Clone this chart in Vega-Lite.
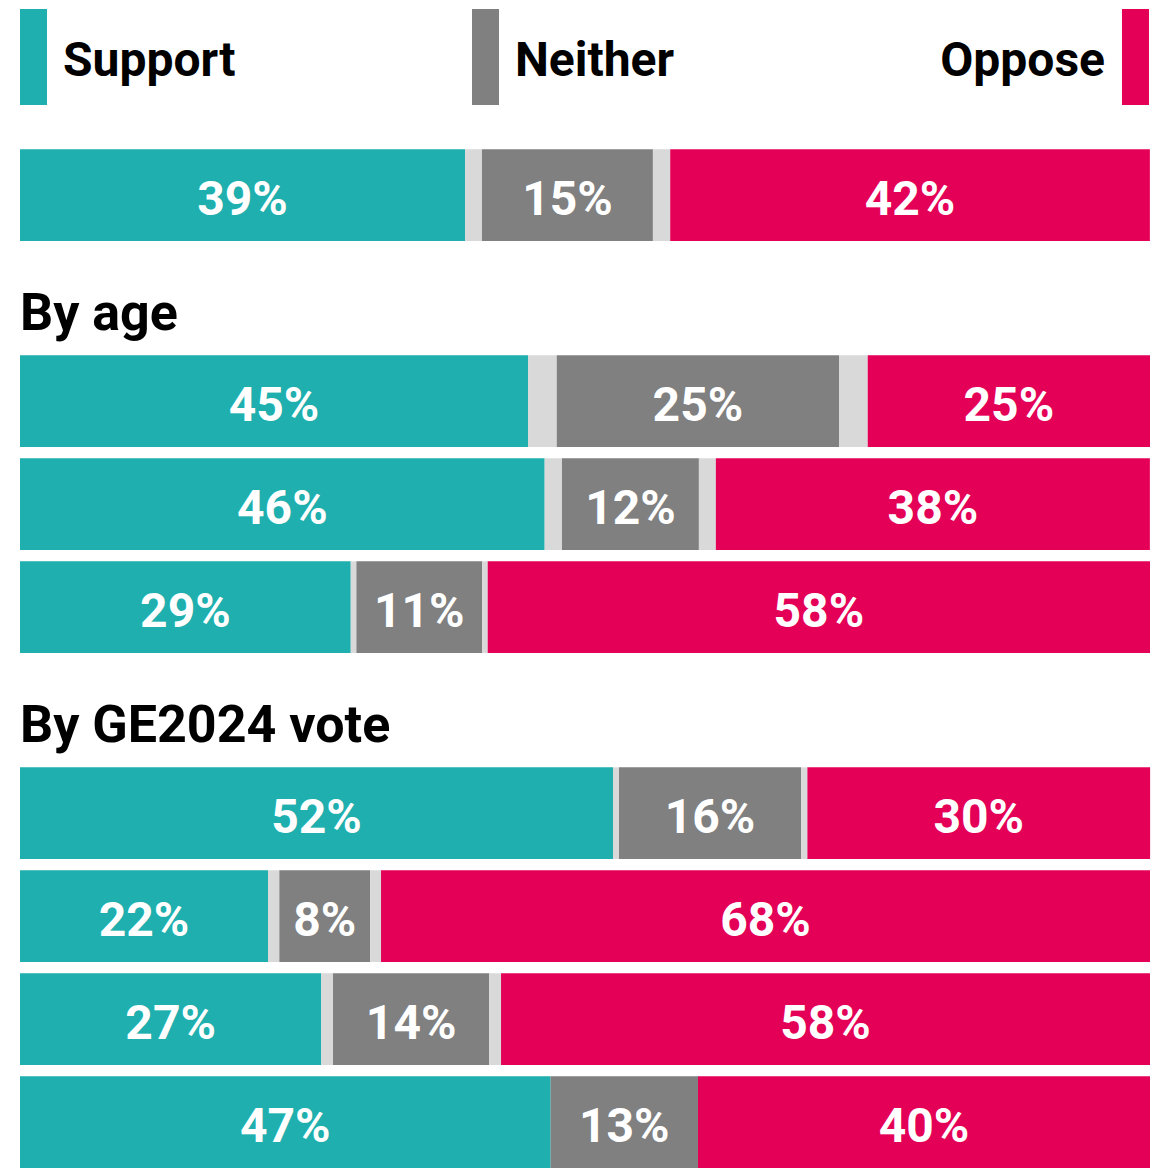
{
  "$schema": "https://vega.github.io/schema/vega-lite/v6.json",
  "padding": {"left": 20, "right": 13, "top": 9, "bottom": 0},
  "spacing": 44.3,
  "background": "#ffffff",
  "config": {"view": {"stroke": null}},
  "datasets": {
    "segments": [
      {"row": "All", "seq": 1, "category": "Support", "value": 39.38, "label": "39%"},
      {"row": "All", "seq": 2, "category": "Don't know", "value": 1.50},
      {"row": "All", "seq": 3, "category": "Neither", "value": 15.13, "label": "15%"},
      {"row": "All", "seq": 4, "category": "Don't know", "value": 1.53},
      {"row": "All", "seq": 5, "category": "Oppose", "value": 42.45, "label": "42%"},
      {"row": "Age group 1", "seq": 1, "category": "Support", "value": 44.96, "label": "45%"},
      {"row": "Age group 1", "seq": 2, "category": "Don't know", "value": 2.54},
      {"row": "Age group 1", "seq": 3, "category": "Neither", "value": 24.98, "label": "25%"},
      {"row": "Age group 1", "seq": 4, "category": "Don't know", "value": 2.54},
      {"row": "Age group 1", "seq": 5, "category": "Oppose", "value": 24.98, "label": "25%"},
      {"row": "Age group 2", "seq": 1, "category": "Support", "value": 46.43, "label": "46%"},
      {"row": "Age group 2", "seq": 2, "category": "Don't know", "value": 1.53},
      {"row": "Age group 2", "seq": 3, "category": "Neither", "value": 12.12, "label": "12%"},
      {"row": "Age group 2", "seq": 4, "category": "Don't know", "value": 1.50},
      {"row": "Age group 2", "seq": 5, "category": "Oppose", "value": 38.41, "label": "38%"},
      {"row": "Age group 3", "seq": 1, "category": "Support", "value": 29.27, "label": "29%"},
      {"row": "Age group 3", "seq": 2, "category": "Don't know", "value": 0.50},
      {"row": "Age group 3", "seq": 3, "category": "Neither", "value": 11.12, "label": "11%"},
      {"row": "Age group 3", "seq": 4, "category": "Don't know", "value": 0.50},
      {"row": "Age group 3", "seq": 5, "category": "Oppose", "value": 58.61, "label": "58%"},
      {"row": "Vote group 1", "seq": 1, "category": "Support", "value": 52.48, "label": "52%"},
      {"row": "Vote group 1", "seq": 2, "category": "Don't know", "value": 0.53},
      {"row": "Vote group 1", "seq": 3, "category": "Neither", "value": 16.11, "label": "16%"},
      {"row": "Vote group 1", "seq": 4, "category": "Don't know", "value": 0.56},
      {"row": "Vote group 1", "seq": 5, "category": "Oppose", "value": 30.33, "label": "30%"},
      {"row": "Vote group 2", "seq": 1, "category": "Support", "value": 21.95, "label": "22%"},
      {"row": "Vote group 2", "seq": 2, "category": "Don't know", "value": 1.00},
      {"row": "Vote group 2", "seq": 3, "category": "Neither", "value": 8.03, "label": "8%"},
      {"row": "Vote group 2", "seq": 4, "category": "Don't know", "value": 0.97},
      {"row": "Vote group 2", "seq": 5, "category": "Oppose", "value": 68.05, "label": "68%"},
      {"row": "Vote group 3", "seq": 1, "category": "Support", "value": 26.66, "label": "27%"},
      {"row": "Vote group 3", "seq": 2, "category": "Don't know", "value": 1.04},
      {"row": "Vote group 3", "seq": 3, "category": "Neither", "value": 13.83, "label": "14%"},
      {"row": "Vote group 3", "seq": 4, "category": "Don't know", "value": 1.04},
      {"row": "Vote group 3", "seq": 5, "category": "Oppose", "value": 57.43, "label": "58%"},
      {"row": "Vote group 4", "seq": 1, "category": "Support", "value": 46.96, "label": "47%"},
      {"row": "Vote group 4", "seq": 3, "category": "Neither", "value": 13.04, "label": "13%"},
      {"row": "Vote group 4", "seq": 5, "category": "Oppose", "value": 40.00, "label": "40%"}
    ],
    "headers": [
      {"row": "Header age", "title": "By age"},
      {"row": "Header vote", "title": "By GE2024 vote"}
    ]
  },
  "vconcat": [
    {
      "width": 1130,
      "height": 96,
      "layer": [
        {
          "data": {"values": [{"category": "Support"}]},
          "mark": {"type": "bar"},
          "encoding": {
            "x": {"datum": 0, "type": "quantitative", "scale": {"domain": [0, 100], "nice": false}, "axis": null},
            "x2": {"datum": 2.39},
            "y": {"datum": "key", "type": "nominal", "scale": {"paddingInner": 0, "paddingOuter": 0}, "axis": null},
            "color": {"field": "category", "type": "nominal", "scale": {"domain": ["Support", "Don't know", "Neither", "Oppose"], "range": ["#1EAFAE", "#D9D9D9", "#808080", "#E40057"]}, "legend": null}
          }
        },
        {
          "data": {"values": [{"category": "Neither"}]},
          "mark": {"type": "bar"},
          "encoding": {
            "x": {"datum": 40, "type": "quantitative"},
            "x2": {"datum": 42.39},
            "y": {"datum": "key", "type": "nominal"},
            "color": {"field": "category", "type": "nominal", "legend": null}
          }
        },
        {
          "data": {"values": [{"category": "Oppose"}]},
          "mark": {"type": "bar"},
          "encoding": {
            "x": {"datum": 97.52, "type": "quantitative"},
            "x2": {"datum": 99.91},
            "y": {"datum": "key", "type": "nominal"},
            "color": {"field": "category", "type": "nominal", "legend": null}
          }
        },
        {
          "data": {"values": [{"category": "Support"}]},
          "mark": {"type": "text", "font": "Roboto", "fontWeight": "bold", "fontSize": 48, "color": "#000000", "align": "left", "baseline": "alphabetic", "dx": 16, "dy": 19},
          "encoding": {
            "x": {"datum": 2.39, "type": "quantitative"},
            "y": {"datum": "key", "type": "nominal"},
            "text": {"field": "category"}
          }
        },
        {
          "data": {"values": [{"category": "Neither"}]},
          "mark": {"type": "text", "font": "Roboto", "fontWeight": "bold", "fontSize": 48, "color": "#000000", "align": "left", "baseline": "alphabetic", "dx": 16, "dy": 19},
          "encoding": {
            "x": {"datum": 42.39, "type": "quantitative"},
            "y": {"datum": "key", "type": "nominal"},
            "text": {"field": "category"}
          }
        },
        {
          "data": {"values": [{"category": "Oppose"}]},
          "mark": {"type": "text", "font": "Roboto", "fontWeight": "bold", "fontSize": 48, "color": "#000000", "align": "right", "baseline": "alphabetic", "dx": -17, "dy": 19},
          "encoding": {
            "x": {"datum": 97.52, "type": "quantitative"},
            "y": {"datum": "key", "type": "nominal"},
            "text": {"field": "category"}
          }
        }
      ]
    },
    {
      "width": 1130,
      "height": 1018.7,
      "layer": [
        {
          "data": {"name": "segments"},
          "transform": [
            {"stack": "value", "groupby": ["row"], "sort": [{"field": "seq", "order": "ascending"}], "as": ["x0", "x1"]}
          ],
          "mark": {"type": "bar"},
          "encoding": {
            "y": {
              "field": "row", "type": "nominal", "axis": null,
              "scale": {
                "domain": ["All", "Header age", "Age group 1", "Age group 2", "Age group 3", "Header vote", "Vote group 1", "Vote group 2", "Vote group 3", "Vote group 4"],
                "paddingInner": 0.11, "paddingOuter": 0
              }
            },
            "x": {"field": "x0", "type": "quantitative", "scale": {"domain": [0, 100], "nice": false}, "axis": null},
            "x2": {"field": "x1"},
            "color": {"field": "category", "type": "nominal", "scale": {"domain": ["Support", "Don't know", "Neither", "Oppose"], "range": ["#1EAFAE", "#D9D9D9", "#808080", "#E40057"]}, "legend": null}
          }
        },
        {
          "data": {"name": "segments"},
          "transform": [
            {"stack": "value", "groupby": ["row"], "sort": [{"field": "seq", "order": "ascending"}], "as": ["x0", "x1"]},
            {"filter": "isValid(datum.label)"},
            {"fold": ["x0", "x1"], "as": ["edge", "pos"]}
          ],
          "mark": {"type": "text", "font": "Roboto", "fontWeight": "bold", "fontSize": 48, "color": "#ffffff", "align": "center", "baseline": "alphabetic", "dy": 20},
          "encoding": {
            "y": {"field": "row", "type": "nominal"},
            "x": {"aggregate": "mean", "field": "pos", "type": "quantitative"},
            "detail": {"field": "seq", "type": "nominal"},
            "text": {"field": "label"}
          }
        },
        {
          "data": {"name": "headers"},
          "mark": {"type": "text", "font": "Roboto", "fontWeight": "bold", "fontSize": 52, "color": "#000000", "align": "left", "baseline": "alphabetic", "dy": 32},
          "encoding": {
            "y": {"field": "row", "type": "nominal"},
            "x": {"datum": 0, "type": "quantitative"},
            "text": {"field": "title"}
          }
        }
      ]
    }
  ]
}
